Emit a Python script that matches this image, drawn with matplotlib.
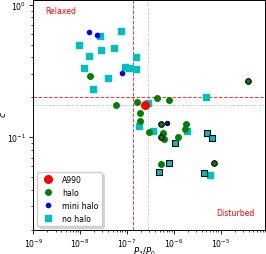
import matplotlib
matplotlib.use("Agg")
import matplotlib.pyplot as plt
from matplotlib.ticker import NullFormatter
import numpy as np

# P3/P0 and c values
a990_p = [2.49e-7]
a990_c = [0.175]

halo_p = [1.63e-8, 5.77e-8, 1.64e-7, 4.39e-7, 8.05e-7, 1.91e-7, 1.92e-7,
          2.92e-7, 5.9e-7, 6.21e-7, 1.24e-6, 1.82e-6, 1.77e-6, 5.36e-7]
halo_c = [0.290, 0.175, 0.183, 0.197, 0.190, 0.153, 0.133,
          0.109, 0.108, 0.0967, 0.101, 0.126, 0.116, 0.0626]
halo_edge_p = [5.27e-7, 5.27e-7, 3.87e-5, 7.38e-6]
halo_edge_c = [0.126, 0.100, 0.267, 0.0643]

mini_p = [1.57e-8, 2.33e-8, 7.74e-8]
mini_c = [0.619, 0.594, 0.304]
mini_edge_p = [7.2e-7]
mini_edge_c = [0.128]

nohalo_p = [2.70e-8, 7.48e-8, 9.3e-9, 2.75e-8, 5.3e-8, 1.55e-8, 1.59e-7,
            1.21e-8, 9.25e-8, 1.12e-7, 1.59e-7, 3.89e-8, 1.89e-8, 2.86e-7,
            4.98e-6, 1.77e-7, 3.65e-7, 1.90e-6, 5.82e-6]
nohalo_c = [0.584, 0.633, 0.494, 0.455, 0.471, 0.410, 0.403,
            0.331, 0.337, 0.333, 0.329, 0.277, 0.231, 0.180,
            0.200, 0.122, 0.111, 0.112, 0.0520]
nohalo_edge_p = [1.08e-6, 5.02e-6, 6.49e-6, 8.05e-7, 4.92e-7, 4.38e-6]
nohalo_edge_c = [0.0902, 0.108, 0.0993, 0.0640, 0.0546, 0.0538]

p_cut = 1.37e-7
c_cut = 0.2
p_a990 = 2.86e-7
c_a990 = 0.175

plt.rcParams['font.size'] = 5.6

fig = plt.figure(figsize=(2.66, 2.55), dpi=100)
ax = fig.add_axes([0.1252, 0.0953, 0.872, 0.901])

ax.axvline(p_cut, color='r', ls='--', lw=0.7, alpha=0.8)
ax.axhline(c_cut, color='r', ls='--', lw=0.7, alpha=0.8)
ax.axvline(p_a990, color='0.7', ls=':', lw=0.7)
ax.axhline(c_a990, color='0.7', ls=':', lw=0.7)

ax.plot(nohalo_p, nohalo_c, 's', color='c', ms=4, label='no halo', zorder=3)
ax.plot(nohalo_edge_p, nohalo_edge_c, 's', color='c', mec='k', mew=0.8, ms=4, zorder=3)
ax.plot(halo_p, halo_c, 'o', color='g', ms=4, label='halo', zorder=4)
ax.plot(halo_edge_p, halo_edge_c, 'o', color='g', mec='k', mew=0.8, ms=4, zorder=4)
ax.plot(mini_p, mini_c, 'o', color='b', ms=3, label='mini halo', zorder=4)
ax.plot(mini_edge_p, mini_edge_c, 'o', color='b', mec='k', mew=0.8, ms=3, zorder=4)
ax.plot(a990_p, a990_c, 'o', color='r', ms=5.5, label='A990', zorder=5)

ax.set_xscale('log')
ax.set_yscale('log')
ax.set_xlim(1e-9, 9e-5)
ax.set_ylim(0.02, 1.085)
ax.xaxis.set_minor_formatter(NullFormatter())
ax.yaxis.set_minor_formatter(NullFormatter())
ax.tick_params(which='major', length=3, width=0.6, pad=2)
ax.tick_params(which='minor', length=1.6, width=0.5)
for s in ax.spines.values():
    s.set_linewidth(0.7)

ax.text(0.053, 0.952, 'Relaxed', color='r', transform=ax.transAxes, ha='left', va='center')
ax.text(0.954, 0.077, 'Disturbed', color='r', transform=ax.transAxes, ha='right', va='center')

ax.set_xlabel(r'$P_3/P_0$', fontsize=6.2)
ax.set_ylabel(r'$c$', fontsize=6.5)
ax.xaxis.set_label_coords(0.477, -0.063)
ax.yaxis.set_label_coords(-0.11, 0.504)

h, l = ax.get_legend_handles_labels()
order = [3, 1, 2, 0]
ax.legend([h[i] for i in order], [l[i] for i in order], loc='lower left',
          fontsize=5.6, shadow={'color': '0.75', 'alpha': 0.6})

fig.savefig('out.png', dpi=100)
